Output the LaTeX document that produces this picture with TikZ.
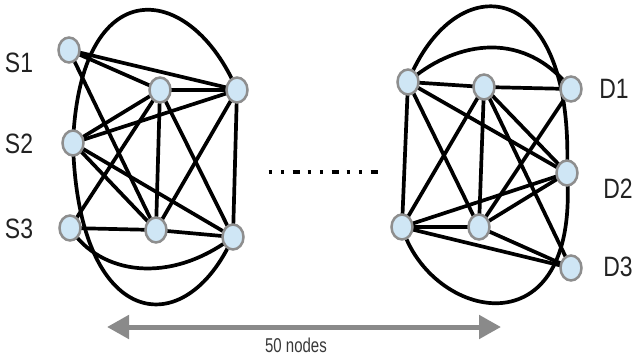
\documentclass[tikz,border=0pt]{standalone}
\usepackage{fontspec}
\setmainfont{Liberation Sans}
\usetikzlibrary{shapes.geometric,arrows.meta}
\definecolor{nodeblue}{HTML}{CFE6F5}
\definecolor{nodegray}{HTML}{8E8E8E}
\definecolor{arrowgray}{HTML}{8A8A8A}
\definecolor{labeltext}{HTML}{222222}
\pgfdeclarelayer{bg}
\pgfsetlayers{bg,main}
\tikzset{
  vtx/.style={ellipse, minimum width=21pt, minimum height=25pt, inner sep=0pt,
    fill=nodeblue, draw=nodegray, line width=2.5pt},
  edge/.style={line width=3.7pt, black, line cap=round},
  lbl/.style={font=\fontsize{28}{32}\selectfont, text=labeltext, inner sep=0pt},
}
\begin{document}
\begin{tikzpicture}[x=1pt,y=-1pt]
\useasboundingbox (0,0) rectangle (635,356);
% left cluster nodes
\node[vtx] (s1) at (69,50) {};
\node[vtx] (a) at (160,90) {};
\node[vtx] (b) at (237,90) {};
\node[vtx] (s2) at (73,143) {};
\node[vtx] (s3) at (70,228) {};
\node[vtx] (c) at (156,230) {};
\node[vtx] (e) at (233,237) {};
% right cluster nodes
\node[vtx] (r1) at (408,82) {};
\node[vtx] (r2) at (484,87) {};
\node[vtx] (d1) at (571,89) {};
\node[vtx] (d2) at (567,173) {};
\node[vtx] (r4) at (402,227) {};
\node[vtx] (r5) at (479,227) {};
\node[vtx] (d3) at (571,268) {};
% labels
\node[lbl] (ls1) at (19,63) {\scalebox{0.82}[1]{S1}};
\node[lbl] (ls2) at (19,144) {\scalebox{0.82}[1]{S2}};
\node[lbl] (ls3) at (19,229) {\scalebox{0.82}[1]{S3}};
\node[lbl] (ld1) at (614,89) {\scalebox{0.82}[1]{D1}};
\node[lbl] (ld2) at (618,189) {\scalebox{0.82}[1]{D2}};
\node[lbl] (ld3) at (618,267) {\scalebox{0.82}[1]{D3}};
\begin{pgfonlayer}{bg}
% left edges
\draw[edge] (s1.center) -- (a.center);
\draw[edge] (s1.center) -- (b.center);
\draw[edge] (s1.center) -- (c.center);
\draw[edge] (s2.center) -- (a.center);
\draw[edge] (s2.center) -- (b.center);
\draw[edge] (s2.center) -- (c.center);
\draw[edge] (s2.center) -- (e.center);
\draw[edge] (s3.center) -- (a.center);
\draw[edge] (s3.center) -- (c.center);
\draw[edge] (a.center) -- (b.center);
\draw[edge] (a.center) -- (c.center);
\draw[edge] (a.center) -- (e.center);
\draw[edge] (b.center) -- (c.center);
\draw[edge] (b.center) -- (e.center);
\draw[edge] (c.center) -- (e.center);
\draw[edge] (s2.center) .. controls (80,-30) and (190,-20) .. (b.center);
\draw[edge] (s2.center) .. controls (78,330) and (185,345) .. (e.center);
\draw[edge] (s3.center) .. controls (100,275) and (170,285) .. (e.center);
% right edges
\draw[edge] (r1.center) -- (r2.center);
\draw[edge] (r2.center) -- (d1.center);
\draw[edge] (r1.center) -- (r4.center);
\draw[edge] (r1.center) -- (r5.center);
\draw[edge] (r1.center) -- (d2.center);
\draw[edge] (r2.center) -- (r4.center);
\draw[edge] (r2.center) -- (r5.center);
\draw[edge] (r2.center) -- (d2.center);
\draw[edge] (r2.center) -- (d3.center);
\draw[edge] (d1.center) -- (r5.center);
\draw[edge] (r4.center) -- (r5.center);
\draw[edge] (r4.center) -- (d2.center);
\draw[edge] (r4.center) -- (d3.center);
\draw[edge] (r5.center) -- (d2.center);
\draw[edge] (r5.center) -- (d3.center);
\draw[edge] (r1.center) .. controls (450,45) and (520,25) .. (d1.center);
\draw[edge] (r1.center) .. controls (455,-35) and (575,-25) .. (d2.center);
\draw[edge] (r4.center) .. controls (430,320) and (580,355) .. (d2.center);
\end{pgfonlayer}
% dotted separator
\coordinate (dl) at (268.5,172);
\coordinate (dr) at (377.5,172);
\draw[line width=4.5pt, black, dash pattern=on 3pt off 9.3pt on 3pt off 8.7pt on 7pt off 8pt] (dl) -- (dr);
% arrow
\coordinate (al) at (107,327);
\coordinate (ar) at (501,327);
\draw[arrowgray, line width=5pt, {Triangle[length=22pt,width=23pt]}-{Triangle[length=22pt,width=23pt]}] (al) -- (ar);
\node[font=\fontsize{20}{24}\selectfont, text=labeltext!90!white, inner sep=0pt] (lbl50) at (296,345) {\scalebox{0.75}[1]{50 nodes}};
\end{tikzpicture}
\end{document}
